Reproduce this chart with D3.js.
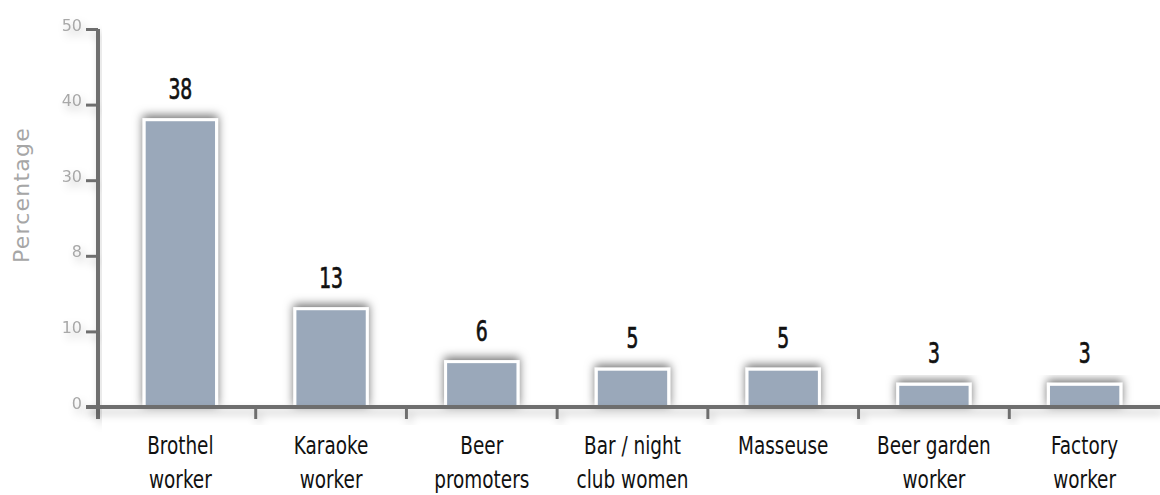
<!DOCTYPE html>
<html>
<head>
<meta charset="utf-8">
<script src="https://cdn.jsdelivr.net/npm/d3@7"></script>
<style>
  html, body { margin: 0; padding: 0; background: #fff; }
  svg { display: block; }
</style>
</head>
<body>
<svg id="chart" width="1160" height="495"></svg>
<script>
const categories = [
  ["Brothel", "worker"],
  ["Karaoke", "worker"],
  ["Beer", "promoters"],
  ["Bar / night", "club women"],
  ["Masseuse"],
  ["Beer garden", "worker"],
  ["Factory", "worker"]
];
const values = [38, 13, 6, 5, 5, 3, 3];
const yTickValues = [0, 10, 20, 30, 40, 50];
const yTickLabels = ["0", "10", "8", "30", "40", "50"];
const yTitle = "Percentage";

const svg = d3.select("#chart");
const W = 1160, H = 495;
const axisX = 98, baseY = 407, topY = 29;

const defs = svg.append("defs");
const f = defs.append("filter").attr("id", "barShadow")
  .attr("x", "-40%").attr("y", "-40%").attr("width", "180%").attr("height", "180%");
f.append("feDropShadow").attr("dx", 0).attr("dy", -3).attr("stdDeviation", 5)
  .attr("flood-color", "#000").attr("flood-opacity", 0.55);
const fa = defs.append("filter").attr("id", "axisShadow")
  .attr("x", "-10%").attr("y", "-50%").attr("width", "120%").attr("height", "200%");
fa.append("feDropShadow").attr("dx", 3).attr("dy", 5).attr("stdDeviation", 4)
  .attr("flood-color", "#000").attr("flood-opacity", 0.22);

const idx = categories.map((d, i) => i);
const x = d3.scaleBand().domain(idx).range([105, 1160]).paddingInner(0.52).paddingOuter(0.26);
const y = d3.scaleLinear().domain([0, 50]).range([baseY, topY]);

// bars
svg.append("g").selectAll("rect").data(values).join("rect")
  .attr("x", (d, i) => x(i))
  .attr("y", d => y(d))
  .attr("width", x.bandwidth())
  .attr("height", d => y(0) - y(d))
  .attr("fill", "#9aa8ba")
  .attr("stroke", "#fff")
  .attr("stroke-width", 3)
  .attr("filter", "url(#barShadow)");

const condFont = "'DejaVu Sans Condensed', 'DejaVu Sans', sans-serif";

// value labels
svg.append("g").selectAll("text").data(values).join("text")
  .attr("transform", (d, i) => `translate(${x(i) + x.bandwidth() / 2},${y(d) - 21}) scale(0.72,1)`)
  .attr("text-anchor", "middle")
  .attr("font-family", condFont)
  .attr("font-size", 29)
  .attr("fill", "#111")
  .attr("stroke", "#111")
  .attr("stroke-width", 0.7)
  .text(d => d);

// y axis
const yAxis = d3.axisLeft(y).tickValues(yTickValues)
  .tickFormat((d, i) => yTickLabels[i]).tickSize(12).tickSizeOuter(0).tickPadding(4);
const gy = svg.append("g").attr("transform", `translate(${axisX},0)`)
  .attr("filter", "url(#axisShadow)").call(yAxis);
gy.select(".domain").attr("stroke", "#6e6e6e").attr("stroke-width", 4)
  .attr("d", `M0,${topY}V${baseY + 12}`);
gy.selectAll(".tick line").attr("stroke", "#6e6e6e").attr("stroke-width", 3);
gy.selectAll(".tick text")
  .attr("font-family", "'DejaVu Sans', sans-serif")
  .attr("font-size", 16)
  .attr("fill", "#a8a8a8")
  .attr("dy", "0")
  .attr("y", 1);

// x axis
const bounds = d3.range(1, categories.length).map(i => (x(i - 1) + x(i) + x.bandwidth()) / 2);
const gx = svg.append("g").attr("transform", `translate(0,${baseY})`).attr("filter", "url(#axisShadow)");
gx.append("line").attr("x1", 86).attr("x2", W).attr("y1", 0).attr("y2", 0)
  .attr("stroke", "#6e6e6e").attr("stroke-width", 4);
gx.selectAll("line.t").data(bounds).join("line").attr("class", "t")
  .attr("x1", d => d).attr("x2", d => d).attr("y1", 0).attr("y2", 12)
  .attr("stroke", "#6e6e6e").attr("stroke-width", 3);

// category labels
const cl = svg.append("g").selectAll("text").data(categories).join("text")
  .attr("text-anchor", "middle")
  .attr("font-family", condFont)
  .attr("font-size", 25)
  .attr("fill", "#111")
  .attr("transform", (d, i) => `translate(${x(i) + x.bandwidth() / 2},0) scale(0.82,1)`);
cl.selectAll("tspan").data(d => d).join("tspan")
  .attr("x", 0)
  .attr("y", (d, j) => 454 + j * 34)
  .text(d => d);

// y title
svg.append("text")
  .attr("transform", `translate(29,195) rotate(-90)`)
  .attr("text-anchor", "middle")
  .attr("font-family", "'DejaVu Sans', sans-serif")
  .attr("font-size", 22)
  .attr("letter-spacing", 1.2)
  .attr("fill", "#a6a6a6")
  .text(yTitle);
</script>
</body>
</html>
